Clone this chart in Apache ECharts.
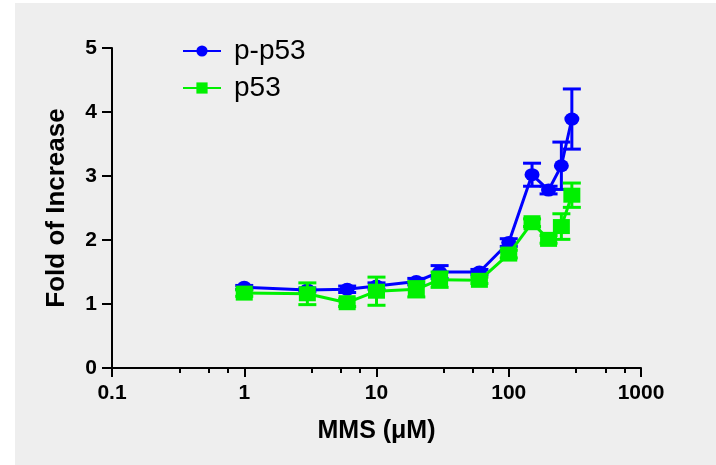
<!DOCTYPE html>
<html>
<head>
<meta charset="utf-8">
<script src="https://cdn.jsdelivr.net/npm/echarts@6/dist/echarts.min.js"></script>
<style>
html,body{margin:0;padding:0;background:#fff;}
#c{width:716px;height:465px;}
</style>
</head>
<body>
<div id="c"></div>
<script>
// Data
var doses = [1, 3, 6, 10, 20, 30, 60, 100, 150, 200, 250, 300];
var pp53 = [1.26, 1.22, 1.23, 1.28, 1.35, 1.50, 1.50, 1.96, 3.02, 2.78, 3.16, 3.89];
var pp53Err = [0.03, 0.03, 0.05, 0.05, 0.05, 0.10, 0.04, 0.06, 0.18, 0.06, 0.37, 0.47];
var p53 = [1.17, 1.16, 1.02, 1.20, 1.23, 1.38, 1.37, 1.78, 2.27, 2.01, 2.21, 2.70];
var p53Err = [0.05, 0.17, 0.06, 0.22, 0.12, 0.12, 0.05, 0.06, 0.06, 0.06, 0.20, 0.19];
var xTicks = [0.1, 1, 10, 100, 1000];
var xMinorTicks = [0.323, 0.537, 0.753, 3.23, 5.37, 7.53, 32.3, 53.7, 75.3, 323, 537, 753];
var seriesNames = ['p-p53', 'p53'];

function pairs(xs, ys) { return xs.map(function (x, i) { return [x, ys[i]]; }); }
function errTriples(xs, ys, es) { return xs.map(function (x, i) { return [x, ys[i], es[i]]; }); }

function errRender(color, capHalf) {
  return function (params, api) {
    var x = api.value(0), y = api.value(1), e = api.value(2);
    var top = api.coord([x, y + e]);
    var bot = api.coord([x, y - e]);
    var st = { stroke: color, lineWidth: 3 };
    return {
      type: 'group',
      children: [
        { type: 'line', shape: { x1: top[0], y1: top[1], x2: bot[0], y2: bot[1] }, style: st },
        { type: 'line', shape: { x1: top[0] - capHalf, y1: top[1], x2: top[0] + capHalf, y2: top[1] }, style: st },
        { type: 'line', shape: { x1: bot[0] - capHalf, y1: bot[1], x2: bot[0] + capHalf, y2: bot[1] }, style: st }
      ]
    };
  };
}

var FONT = '"Liberation Sans", Arial, sans-serif';
var BLUE = '#0000ff', GREEN = '#00f000';
var chart = echarts.init(document.getElementById('c'), null, { renderer: 'canvas' });
var xAxisBase = {
  type: 'log', logBase: 10, min: 0.1, max: 1000,
  splitLine: { show: false }
};
chart.setOption({
  backgroundColor: '#ffffff',
  animation: false,
  graphic: [{
    type: 'rect', left: 15, top: 3, z: -10,
    shape: { width: 701, height: 462 },
    style: { fill: '#eeeeee' }
  }],
  grid: { left: 112, right: 75, top: 48, bottom: 97, containLabel: false },
  legend: {
    orient: 'vertical', left: 177, top: 32, itemGap: 9,
    itemWidth: 38, itemHeight: 14,
    textStyle: { fontFamily: FONT, fontSize: 28, lineHeight: 28, color: '#000', padding: [0, 0, 0, 8] },
    data: seriesNames
  },
  xAxis: [
    Object.assign({}, xAxisBase, {
      name: 'MMS (\u03bcM)', nameLocation: 'middle', nameGap: 51,
      nameTextStyle: { fontFamily: FONT, fontSize: 25, fontWeight: 'bold', color: '#000' },
      axisLine: { show: true, lineStyle: { color: '#000', width: 2 } },
      axisTick: { show: true, inside: false, length: 9, lineStyle: { color: '#000', width: 2 } },
      axisLabel: {
        fontFamily: FONT, fontSize: 21, fontWeight: 'bold', color: '#000', margin: 15,
        customValues: xTicks,
        formatter: function (v) { return String(+(+v).toPrecision(6)); }
      }
    }),
    Object.assign({}, xAxisBase, {
      position: 'bottom',
      axisLine: { show: false },
      axisTick: { show: true, inside: false, length: 5, customValues: xMinorTicks, lineStyle: { color: '#000', width: 2 } },
      axisLabel: { show: false }
    })
  ],
  yAxis: {
    type: 'value', min: 0, max: 5, interval: 1,
    name: 'Fold of Increase', nameLocation: 'middle', nameGap: 42, nameRotate: 90,
    nameTextStyle: { fontFamily: FONT, fontSize: 26, fontWeight: 'bold', color: '#000' },
    axisLine: { show: true, lineStyle: { color: '#000', width: 2 } },
    axisTick: { show: true, inside: false, length: 10, lineStyle: { color: '#000', width: 2 } },
    axisLabel: { fontFamily: FONT, fontSize: 21, fontWeight: 'bold', color: '#000', margin: 15 },
    splitLine: { show: false }
  },
  series: [
    {
      type: 'custom', xAxisIndex: 0, renderItem: errRender(BLUE, 9),
      data: errTriples(doses, pp53, pp53Err), z: 2, silent: true
    },
    {
      name: seriesNames[0], type: 'line', xAxisIndex: 0,
      data: pairs(doses, pp53), z: 3,
      symbol: 'circle', symbolSize: [15, 13],
      lineStyle: { color: BLUE, width: 3 },
      itemStyle: { color: BLUE }
    },
    {
      type: 'custom', xAxisIndex: 0, renderItem: errRender(GREEN, 9),
      data: errTriples(doses, p53, p53Err), z: 4, silent: true
    },
    {
      name: seriesNames[1], type: 'line', xAxisIndex: 0,
      data: pairs(doses, p53), z: 5,
      symbol: 'rect', symbolSize: [17, 15],
      lineStyle: { color: GREEN, width: 3 },
      itemStyle: { color: GREEN }
    }
  ]
});
</script>
</body>
</html>
